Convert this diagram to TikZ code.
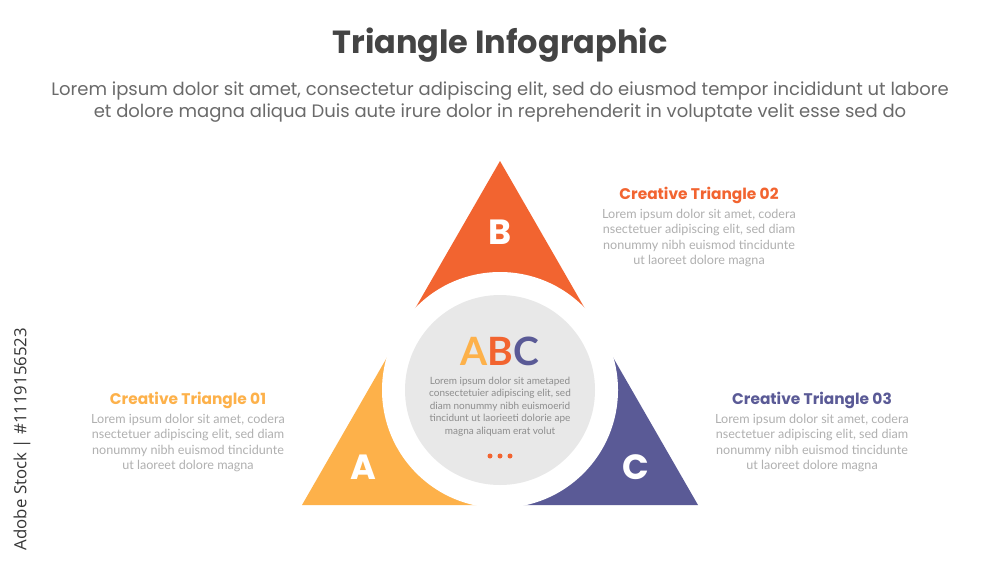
\documentclass[tikz,border=0pt]{standalone}
\usepackage{fontspec}
\setmainfont{Poppins}
\newfontfamily\lato{Lato}
\newfontfamily\opensans{Open Sans}
\definecolor{cA}{HTML}{FDB14A}
\definecolor{cB}{HTML}{F26430}
\definecolor{cC}{HTML}{5A5A96}
\definecolor{ttl}{HTML}{444444}
\definecolor{sub}{HTML}{6A6A6A}
\definecolor{body}{HTML}{B0B0B0}
\definecolor{disc}{HTML}{E8E8E8}
\tikzset{
  headA/.style={font=\bfseries\fontsize{15.4}{18}\selectfont, text=cA},
  headB/.style={font=\bfseries\fontsize{15.4}{18}\selectfont, text=cB},
  headC/.style={font=\bfseries\fontsize{15.4}{18}\selectfont, text=cC},
  bodytxt/.style={font=\lato\fontsize{12.6}{15.4}\selectfont, text=body, align=center, anchor=north, inner sep=0pt},
  letter/.style={font=\bfseries\fontsize{35}{40}\selectfont, text=white},
}
\begin{document}
\begin{tikzpicture}[x=1pt,y=-1pt]
\useasboundingbox (0,0) rectangle (1000,563);
\fill[white] (0,0) rectangle (1000,563);
% title
\node[font=\bfseries\fontsize{32}{36}\selectfont, text=ttl] (title) at (500,45) {Triangle Infographic};
\node[font=\fontsize{18}{22.5}\selectfont, text=sub, align=center] (subtitle) at (500,102)
  {Lorem ipsum dolor sit amet, consectetur adipiscing elit, sed do eiusmod tempor incididunt ut labore\\
   et dolore magna aliqua Duis aute irure dolor in reprehenderit in voluptate velit esse sed do};
% triangle geometry
\coordinate (PB) at (500,161);
\coordinate (PA) at (302,505);
\coordinate (PC) at (698,505);
\coordinate (O) at (500,390);
\coordinate (MAB) at (401,333);
\coordinate (MBC) at (599,333);
\coordinate (MAC) at (500,505);
\fill[cB] (PB) -- (MBC) -- (O) -- (MAB) -- cycle;
\fill[cA] (PA) -- (MAB) -- (O) -- (MAC) -- cycle;
\fill[cC] (PC) -- (MAC) -- (O) -- (MBC) -- cycle;
\fill[white] (O) circle (118);
\fill[disc] (O) circle (95);
% letters
\node[letter] (LB) at (500,232) {B};
\node[letter] (LA) at (363,467) {A};
\node[letter] (LC) at (636,467) {C};
% centre
\node[font=\lato\bfseries\fontsize{39}{44}\selectfont, inner sep=0pt] (abc) at (500,351)
  {\textcolor{cA}{A}\textcolor{cB}{B}\textcolor{cC}{C}};
\node[font=\lato\fontsize{10}{12.4}\selectfont, text=body!80!black, align=center, anchor=north, inner sep=0pt] (ctext) at (500,377)
  {Lorem ipsum dolor sit ametaped\\consectetuier adipiscing elit, sed\\diam nonummy nibh euismoerid\\tincidunt ut laorieeti dolorie ape\\magna aliquam erat volut};
\fill[cB] (490,456) circle (2.5) (500,456) circle (2.5) (510,456) circle (2.5);
% side texts
\node[headB] (h2) at (699,195) {Creative Triangle 02};
\node[bodytxt] (b2) at (699,209) {Lorem ipsum dolor sit amet, codera\\nsectetuer adipiscing elit, sed diam\\nonummy nibh euismod tincidunte\\ut laoreet dolore magna};
\node[headA] (h1) at (188,400) {Creative Triangle 01};
\node[bodytxt] (b1) at (188,414) {Lorem ipsum dolor sit amet, codera\\nsectetuer adipiscing elit, sed diam\\nonummy nibh euismod tincidunte\\ut laoreet dolore magna};
\node[headC] (h3) at (812,400) {Creative Triangle 03};
\node[bodytxt] (b3) at (812,414) {Lorem ipsum dolor sit amet, codera\\nsectetuer adipiscing elit, sed diam\\nonummy nibh euismod tincidunte\\ut laoreet dolore magna};
% vertical credit
\node[font=\opensans\fontsize{16.8}{19}\selectfont, text=ttl!80!black, rotate=90] (credit) at (22,439) {Adobe Stock | \#1119156523};
\end{tikzpicture}
\end{document}
